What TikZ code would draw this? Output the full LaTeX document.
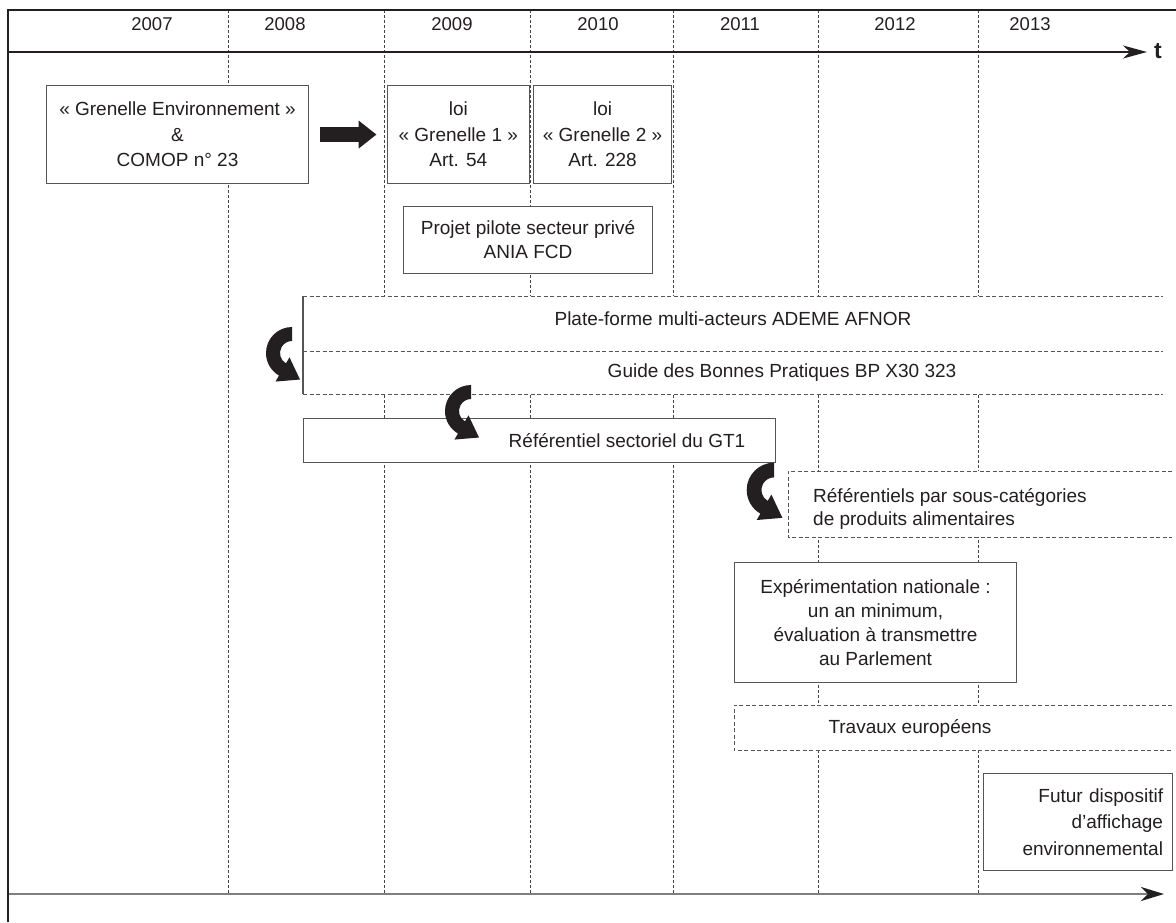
\documentclass[tikz,border=0pt]{standalone}
\usepackage{fontspec}
\setmainfont{Liberation Sans}
\usetikzlibrary{arrows.meta}
\definecolor{ink}{HTML}{231F20}
\definecolor{boxline}{HTML}{555555}
\definecolor{gridline}{HTML}{444444}
\definecolor{axisgray}{HTML}{7F7F7F}
\begin{document}
\begin{tikzpicture}[x=1pt,y=-1pt,
  txt/.style={font=\fontsize{19}{25}\selectfont, text=ink, inner sep=0pt},
  yearlbl/.style={font=\fontsize{18.5}{22}\selectfont, text=ink, inner sep=0pt},
  box/.style={txt, draw=boxline, line width=1.1pt, fill=white, anchor=north west, align=center},
  openbox/.style={fill=white, inner sep=0pt, anchor=north west},
  gridln/.style={draw=gridline, line width=0.8pt, dash pattern=on 3pt off 2pt},
  boxdash/.style={draw=boxline, line width=1pt, dash pattern=on 4pt off 2.5pt},
  curl/.pic={\fill[ink] (270:26) arc[start angle=270,end angle=120,radius=26]
      -- (120:33) -- (8,26.5) -- (120:5) -- (120:12)
      arc[start angle=120,end angle=270,radius=12] -- cycle;}
]
\useasboundingbox (0,0) rectangle (1176,922);

% grid lines
\foreach \gx in {228,384,530,673,818,978}{
  \draw[gridln] (\gx,10) -- (\gx,894);
}

% years
\node[yearlbl] (y2007) at (152,24) {2007};
\node[yearlbl] (y2008) at (285,24) {2008};
\node[yearlbl] (y2009) at (452,24) {2009};
\node[yearlbl] (y2010) at (598,24) {2010};
\node[yearlbl] (y2011) at (740,24) {2011};
\node[yearlbl] (y2012) at (895,24) {2012};
\node[yearlbl] (y2013) at (1030,24) {2013};

% top time axis
\coordinate (ax0) at (8,52);
\coordinate (ax1) at (1147,52);
\draw[ink, line width=1.3pt, -{Stealth[length=24pt,width=13pt,inset=7pt]}] (ax0) -- (ax1);
\node[font=\fontsize{23}{25}\selectfont\bfseries, text=ink, inner sep=0pt] (t) at (1158,51) {t};

% bottom axis
\coordinate (bx0) at (8,894);
\coordinate (bx1) at (1164,894);
\draw[axisgray, line width=2.4pt, -{Stealth[length=23pt,width=14pt,inset=7pt,color=ink]}] (bx0) -- (bx1);

% top boxes
\node[box, minimum width=262, minimum height=98, font=\fontsize{19}{25.5}\selectfont] (gren) at (46,85)
  {« Grenelle Environnement »\\\&\\COMOP n° 23};
\node[box, minimum width=142.5, minimum height=98, font=\fontsize{19}{25.5}\selectfont] (loi1) at (386.5,85)
  {loi\\« Grenelle 1 »\\Art. 54};
\node[box, minimum width=138, minimum height=98, font=\fontsize{19}{25.5}\selectfont] (loi2) at (533,85)
  {loi\\« Grenelle 2 »\\Art. 228};
\draw[ink, line width=15pt, -{Triangle[length=18pt,width=27pt]}, shorten <=11pt, shorten >=10pt]
  (gren.east) -- (loi1.west);

\node[box, minimum width=249, minimum height=67, font=\fontsize{19}{24}\selectfont] (proj) at (403,206)
  {Projet pilote secteur privé\\ANIA FCD};

% plate-forme / guide
\node[openbox, minimum width=860, minimum height=98] (plat) at (303,296) {};
\coordinate (platmw) at (303,351);
\coordinate (platme) at (1163,351);
\draw[boxdash] (plat.north west) -- (plat.north east);
\draw[boxdash] (platmw) -- (platme);
\draw[boxdash] (plat.south west) -- (plat.south east);
\draw[draw=boxline, line width=1.1pt] (plat.north west) -- (plat.south west);
\node[txt] (platt) at (733,319) {Plate-forme multi-acteurs ADEME AFNOR};
\node[txt] (guidet) at (782,373) {Guide des Bonnes Pratiques BP X30 323};

% referentiel sectoriel
\node[box, minimum width=472, minimum height=44] (ref1) at (303,418) {};
\node[txt] (ref1t) at (627,441) {Référentiel sectoriel du GT1};

% referentiels par sous-categories
\node[openbox, minimum width=384, minimum height=66] (ref2) at (788,471) {};
\draw[boxdash] (ref2.north east) -- (ref2.north west) -- (ref2.south west) -- (ref2.south east);
\node[txt, anchor=west, align=left, font=\fontsize{19}{23}\selectfont] (ref2t) at (813,509)
  {Référentiels par sous-catégories\\de produits alimentaires};

% experimentation
\node[box, minimum width=282, minimum height=120, font=\fontsize{19}{24.3}\selectfont] (exp) at (734,562)
  {Expérimentation nationale :\\un an minimum,\\évaluation à transmettre\\au Parlement};

% travaux europeens
\node[openbox, minimum width=438, minimum height=45] (trav) at (734,705) {};
\draw[boxdash] (trav.north east) -- (trav.north west) -- (trav.south west) -- (trav.south east);
\node[txt] (travt) at (910,728) {Travaux européens};

% futur dispositif
\node[box, minimum width=189, minimum height=97, text width=170pt, align=right,
      font=\fontsize{19}{26.5}\selectfont] (fut) at (983,773)
  {Futur dispositif\\d’affichage\\environnemental};

% curved arrows
\pic at (292,353) {curl};
\pic at (471,411) {curl};
\pic[scale=1.05] at (774,490) {curl};

% frame
\draw[ink, line width=2.6pt] (8,922) -- (8,10) -- (1176,10);
\end{tikzpicture}
\end{document}
